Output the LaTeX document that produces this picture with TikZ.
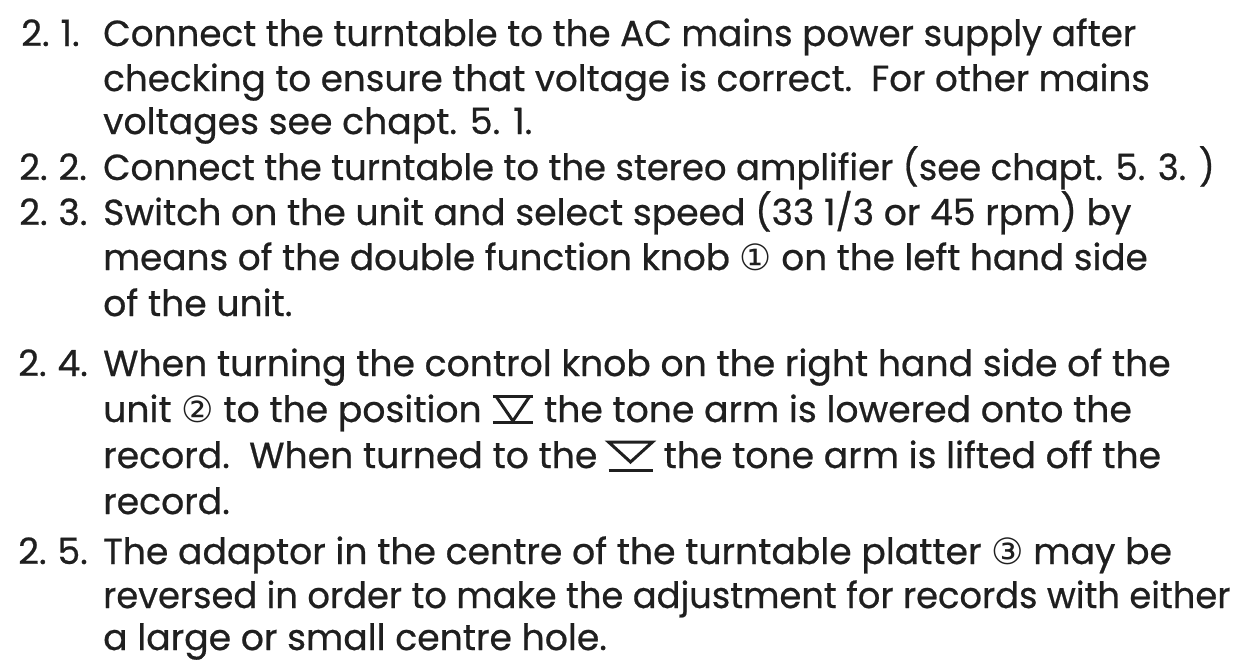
\documentclass[tikz,border=0pt]{standalone}
\usepackage{fontspec}
\usepackage{graphicx}
\setmainfont{Poppins}[FakeBold=0.6]
\newfontfamily\circfont{DejaVu Sans}
\usetikzlibrary{positioning}

\tikzset{
  txt/.style={anchor=base west,inner sep=0pt,text=black!88,font=\fontsize{36.2}{46}\selectfont},
  num/.style={txt},
}
% the two arm-lift marks
\newcommand{\lowermark}{\tikz[baseline=0pt,x=1pt,y=1pt,line width=3pt]{\draw (0,26) -- (40,26); \draw (3,26) -- (20,1) -- (37,26); \draw (0,0) -- (40,0);}}
\newcommand{\liftmark}{\tikz[baseline=0pt,x=1pt,y=1pt,line width=3pt]{\draw (0,26) -- (44,26) -- (22,6) -- cycle; \draw (0,-2) -- (44,-2);}}
\newcommand{\squeeze}[2]{\scalebox{#1}[1]{#2}}
\newcommand{\itemno}[1]{2.\hspace{0.3em}#1.}

\begin{document}
\begin{tikzpicture}[x=1pt,y=-1pt]
\useasboundingbox (0,0) rectangle (1244,664);

\node[num] (n1) at (21,46) {\itemno{1}};
\node[txt] (l1) at (103,46) {\squeeze{0.987}{Connect the turntable to the AC mains power supply after}};
\node[txt] (l2) at (103,91) {\squeeze{0.987}{checking to ensure that voltage is correct.\ \ For other mains}};
\node[txt] (l3) at (103,134) {voltages see chapt. 5. 1.};

\node[num] (n2) at (19,180) {\itemno{2}};
\node[txt] (l4) at (103,180) {\squeeze{0.978}{Connect the turntable to the stereo amplifier (see chapt. 5. 3. )}};

\node[num] (n3) at (19,225) {\itemno{3}};
\node[txt] (l5) at (103,225) {Switch on the unit and select speed (33 1/3 or 45 rpm) by};
\node[txt] (l6) at (103,270) {\squeeze{0.99}{means of the double function knob {\circfont ①} on the left hand side}};
\node[txt] (l7) at (103,316) {of the unit.};

\node[num] (n4) at (18,376) {\itemno{4}};
\node[txt] (l8) at (103,376) {When turning the control knob on the right hand side of the};
\node[txt] (l9) at (103,422) {unit {\circfont ②} to the position \lowermark{} the tone arm is lowered onto the};
\node[txt] (l10) at (103,468) {record.\ \ When turned to the \liftmark{} the tone arm is lifted off the};
\node[txt] (l11) at (103,514) {record.};

\node[num] (n5) at (18,564) {\itemno{5}};
\node[txt] (l12) at (103,564) {The adaptor in the centre of the turntable platter {\circfont ③} may be};
\node[txt] (l13) at (103,608) {\squeeze{0.975}{reversed in order to make the adjustment for records with either}};
\node[txt] (l14) at (103,650) {a large or small centre hole.};
\end{tikzpicture}
\end{document}
